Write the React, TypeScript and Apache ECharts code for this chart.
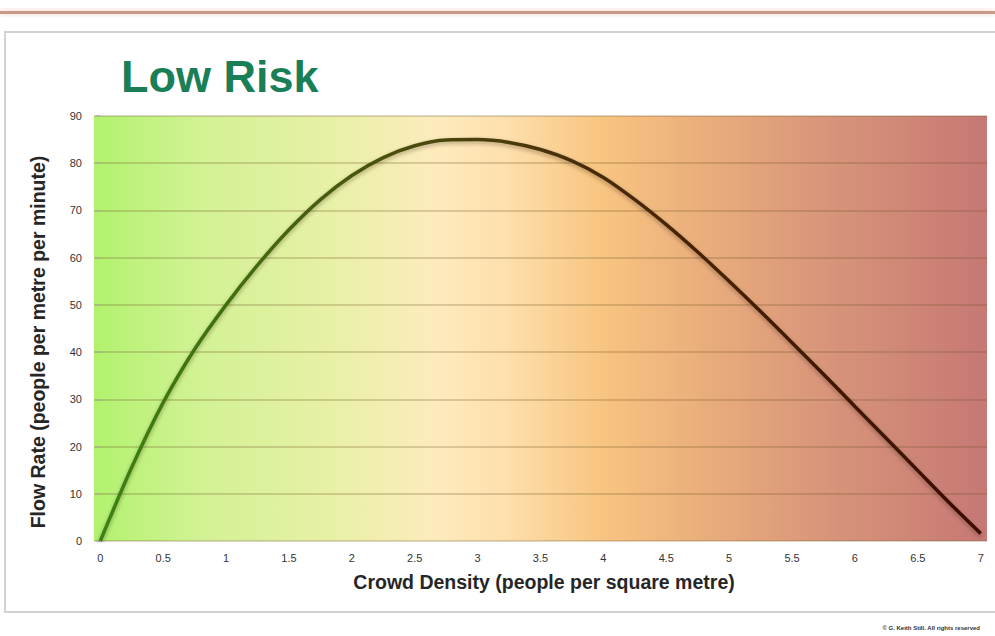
import React, { useEffect, useRef } from "react";
import * as echarts from "echarts";

const density = [0, 0.25, 0.5, 0.75, 1, 1.25, 1.5, 1.75, 2, 2.25, 2.5, 2.75, 3, 3.25, 3.5, 3.75, 4, 4.25, 4.5, 4.75, 5, 5.25, 5.5, 5.75, 6, 6.25, 6.5, 6.75, 7];
const flowRate = [0, 15.6, 29.3, 40.6, 50, 58.4, 65.9, 72.3, 77.4, 81.2, 83.7, 84.9, 85, 84.4, 82.9, 80.5, 77, 72.3, 67, 61.2, 55, 48.6, 42, 35.3, 28.5, 21.7, 14.9, 8.1, 1.6];
const xTickLabels = [0, 0.5, 1, 1.5, 2, 2.5, 3, 3.5, 4, 4.5, 5, 5.5, 6, 6.5, 7];
const yTicks = [0, 10, 20, 30, 40, 50, 60, 70, 80, 90];

const titleText = "Low Risk";
const xName = "Crowd Density (people per square metre)";
const yName = "Flow Rate (people per metre per minute)";
const copyright = "© G. Keith Still. All rights reserved";

export default function App() {
  const ref = useRef<HTMLDivElement>(null);
  useEffect(() => {
    if (!ref.current) return;
    const chart = echarts.init(ref.current, null, { renderer: "svg" });
    const sans = "'Liberation Sans', Arial, Helvetica, sans-serif";
    const option: any = {
      animation: false,
      backgroundColor: "#ffffff",
      grid: {
        left: 94,
        right: 8,
        top: 116,
        bottom: 95,
        show: true,
        borderWidth: 0,
        backgroundColor: new echarts.graphic.LinearGradient(0, 0, 1, 0, [
          { offset: 0, color: "#b2f26e" },
          { offset: 0.12, color: "#d2f294" },
          { offset: 0.28, color: "#eaf0a8" },
          { offset: 0.38, color: "#fdebbd" },
          { offset: 0.46, color: "#fde0ac" },
          { offset: 0.57, color: "#f8c480" },
          { offset: 0.68, color: "#eaae7c" },
          { offset: 0.82, color: "#d8957a" },
          { offset: 1, color: "#c67874" },
        ]),
      },
      xAxis: {
        type: "value",
        min: -0.05,
        max: 7.05,
        axisLine: { show: false },
        axisTick: { show: false },
        splitLine: { show: false },
        axisLabel: {
          customValues: xTickLabels,
          margin: 11,
          fontFamily: sans,
          fontSize: 11,
          color: "#333333",
        },
      },
      yAxis: {
        type: "value",
        min: 0,
        max: 90,
        interval: 10,
        axisLine: { show: false },
        axisTick: { show: true, length: 4, lineStyle: { color: "#b0b0a0", width: 1.5 } },
        axisLabel: {
          customValues: yTicks,
          margin: 12,
          fontFamily: sans,
          fontSize: 11,
          color: "#333333",
        },
        splitLine: { show: true, lineStyle: { color: "rgba(110,85,40,0.32)", width: 1.5 } },
      },
      series: [
        {
          type: "line",
          data: density.map((d, i) => [d, flowRate[i]]),
          smooth: 0.3,
          showSymbol: false,
          lineStyle: {
            width: 3.5,
            color: new echarts.graphic.LinearGradient(0, 0, 1, 0, [
              { offset: 0, color: "#3a8212" },
              { offset: 0.15, color: "#416e10" },
              { offset: 0.35, color: "#4c4c0c" },
              { offset: 0.55, color: "#4a2c08" },
              { offset: 1, color: "#3a0c00" },
            ]),
            shadowColor: "rgba(40,20,0,0.35)",
            shadowBlur: 4,
            shadowOffsetY: 2,
          },
        },
      ],
      graphic: [
        {
          type: "rect",
          shape: { x: 0, y: 11, width: 995, height: 3 },
          style: { fill: "#c49a88", shadowColor: "rgba(230,150,120,0.6)", shadowBlur: 6 },
          silent: true,
        },
        {
          type: "rect",
          shape: { x: 5, y: 32, width: 1000, height: 580 },
          style: { fill: "none", stroke: "#d2d2d2", lineWidth: 2 },
          silent: true,
        },
        {
          type: "text",
          x: 121,
          y: 76,
          style: {
            text: titleText,
            fontFamily: sans,
            fontWeight: "bold",
            fontSize: 45,
            fill: "#1a7f56",
            verticalAlign: "middle",
            shadowColor: "rgba(0,60,30,0.6)",
            shadowBlur: 6,
            shadowOffsetY: 3,
          },
        },
        {
          type: "text",
          x: 544,
          y: 582,
          style: {
            text: xName,
            fontFamily: sans,
            fontWeight: "bold",
            fontSize: 19.5,
            fill: "#262626",
            align: "center",
            verticalAlign: "middle",
          },
        },
        {
          type: "text",
          x: 38,
          y: 342,
          rotation: Math.PI / 2,
          style: {
            text: yName,
            fontFamily: sans,
            fontWeight: "bold",
            fontSize: 19.5,
            fill: "#262626",
            align: "center",
            verticalAlign: "middle",
          },
        },
        {
          type: "text",
          x: 980,
          y: 628,
          style: {
            text: copyright,
            fontFamily: sans,
            fontWeight: "bold",
            fontSize: 6,
            fill: "#333333",
            align: "right",
            verticalAlign: "middle",
          },
        },
      ],
    };
    chart.setOption(option);
    return () => chart.dispose();
  }, []);
  return <div ref={ref} style={{ position: "fixed", left: 0, top: 0, width: 995, height: 636 }} />;
}
